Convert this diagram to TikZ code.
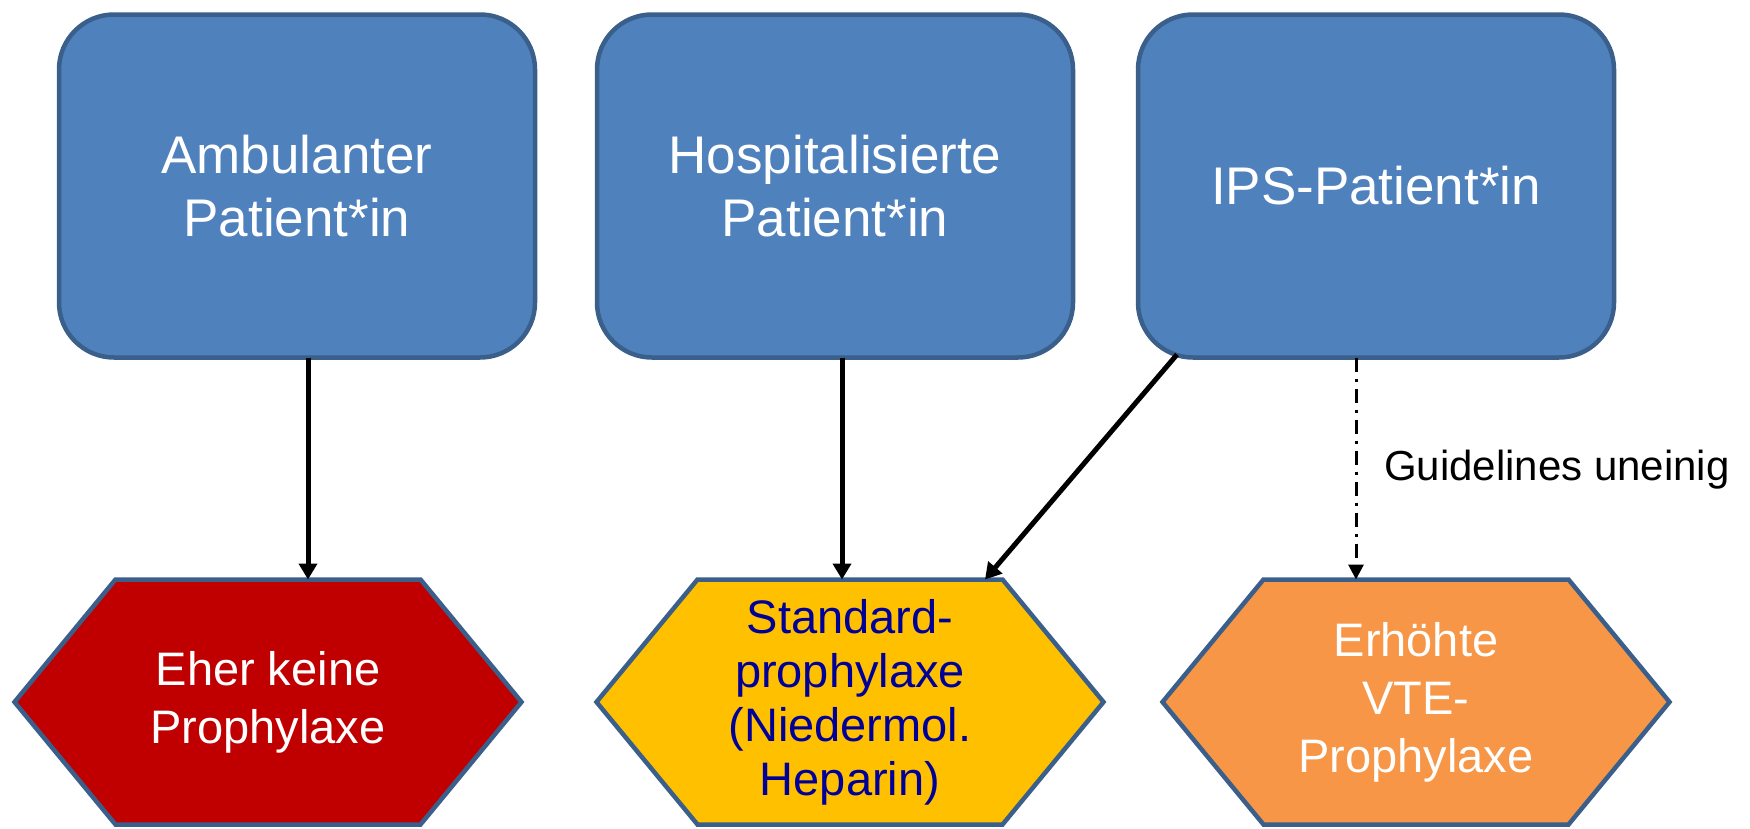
\documentclass[tikz,border=0pt]{standalone}
\usepackage{fontspec}
\setmainfont{Liberation Sans}
\usetikzlibrary{shapes.symbols,arrows.meta}
\definecolor{boxblue}{HTML}{4F81BD}
\definecolor{edgeblue}{HTML}{3A5F8B}
\definecolor{noprox}{HTML}{C00000}
\definecolor{stdprox}{HTML}{FFC000}
\definecolor{highprox}{HTML}{F79646}
\definecolor{navytext}{HTML}{000099}
\tikzset{
  patient/.style={draw=edgeblue, fill=boxblue, line width=4.5pt, rounded corners=55pt,
    minimum width=476pt, minimum height=343pt, inner sep=0pt, outer sep=0pt,
    align=center, text=white, font=\fontsize{53}{63}\selectfont},
  prox/.style={shape=signal, signal to=east and west, signal pointer angle=101,
    draw=edgeblue, line width=4.5pt, minimum width=507pt, minimum height=245pt,
    inner sep=0pt, outer sep=0pt, align=center, text=white,
    font=\fontsize{47}{58}\selectfont},
  arr/.style={line width=5pt, -{Triangle[width=18pt,length=16pt]}},
  guide/.style={line width=3pt, dash pattern=on 14pt off 7pt on 3pt off 7pt,
    -{Triangle[width=15pt,length=15pt]}}
}

\begin{document}
\begin{tikzpicture}[x=1pt, y=-1pt]
        \useasboundingbox (0,0) rectangle (1750,828);
        % patients
        \node[patient] (amb) at (297,186) {Ambulanter\\Patient*in};
        \node[patient] (hosp) at (835,186) {Hospitalisierte\\Patient*in};
        \node[patient] (ips) at (1376,186) {IPS-Patient*in};
        % prophylaxis
        \node[prox, fill=noprox] (eher) at (268,702) {Eher keine\\Prophylaxe};
        \node[prox, fill=stdprox, text=navytext, font=\fontsize{47}{54}\selectfont]
            (std) at (850,702) {Standard-\\prophylaxe\\(Niedermol.\\Heparin)};
        \node[prox, fill=highprox] (vte) at (1416,702) {Erhöhte\\VTE-\\Prophylaxe};
        % arrows
        \draw[arr] ([xshift=11pt]amb.south) -- ([xshift=11pt]amb.south |- eher.north);
        \draw[arr] ([xshift=7pt]hosp.south) -- ([xshift=7pt]hosp.south |- std.north);
        \draw[arr] ([xshift=39pt,yshift=3pt]ips.south west) -- ([xshift=135pt]std.north);
        \draw[guide] ([xshift=-20pt]ips.south) -- ([xshift=-20pt]ips.south |- vte.north);
        \node[anchor=base west, inner sep=0pt, font=\fontsize{42}{50}\selectfont]
            (uneinig) at (1384,480) {Guidelines uneinig};
    \end{tikzpicture}
\end{document}
